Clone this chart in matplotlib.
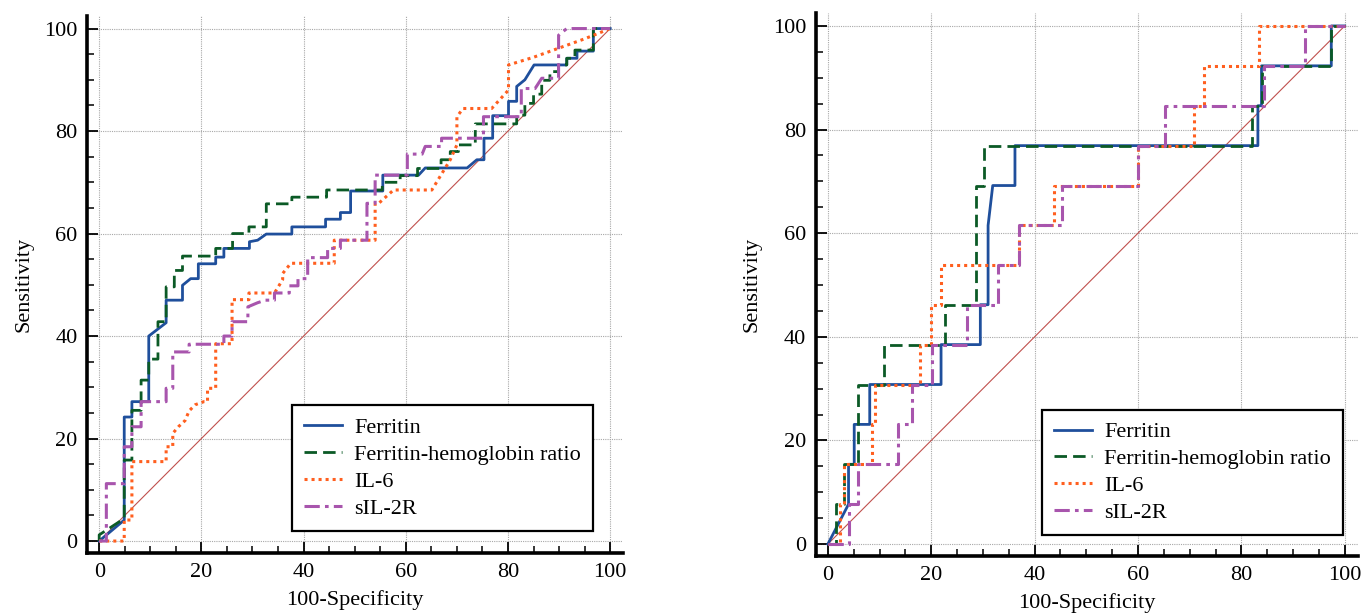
import matplotlib
matplotlib.use("Agg")
import matplotlib.pyplot as plt
from matplotlib.ticker import MultipleLocator

# ---------------- data: left panel ----------------
ferritin_x_L = [0, 4.9, 4.9, 6.4, 6.4, 9.7, 9.7, 13.1, 13.1, 16.3, 16.3, 17.9, 19.4, 19.4, 22.8, 22.8,
                24.4, 24.4, 29.4, 29.4, 31.0, 32.7, 37.7, 37.7, 44.3, 44.3, 47.2, 47.2, 49.2, 49.2,
                55.5, 55.5, 62.5, 63.8, 72.0, 73.9, 75.3, 75.3, 77.0, 77.0, 80.1, 80.1, 81.7, 81.7,
                83.3, 85.1, 91.5, 91.5, 93.5, 93.5, 96.7, 96.7, 100]
ferritin_y_L = [0, 4.1, 24.2, 24.2, 27.2, 27.2, 40.0, 42.6, 47.0, 47.0, 49.9, 51.2, 51.2, 54.1, 54.1, 55.4,
                55.4, 57.1, 57.1, 58.4, 58.7, 59.9, 59.9, 61.3, 61.3, 62.8, 62.8, 64.1, 64.1, 68.3,
                68.3, 71.4, 71.4, 72.8, 72.8, 74.4, 74.4, 78.6, 78.6, 83.0, 83.0, 85.8, 85.8, 88.7,
                90.0, 92.9, 92.9, 94.2, 94.2, 95.6, 95.6, 100, 100]

ratio_x_L = [0, 0, 4.9, 4.9, 6.4, 6.4, 8.2, 8.2, 9.7, 9.7, 11.5, 11.5, 13.1, 13.1, 14.7, 14.7, 16.3, 16.3,
             22.8, 22.8, 26.1, 26.1, 29.3, 29.3, 32.7, 32.7, 37.7, 37.7, 44.5, 44.5, 55.4, 55.4,
             58.9, 58.9, 62.3, 62.3, 66.9, 66.9, 68.7, 68.7, 70.3, 70.3, 73.6, 73.6, 81.7, 81.7,
             83.3, 83.3, 85.0, 85.0, 86.6, 86.6, 88.2, 88.2, 89.9, 89.9, 91.5, 91.5, 93.1, 93.1,
             96.7, 96.7, 100]
ratio_y_L = [0, 1.2, 4.4, 15.8, 15.8, 25.5, 25.5, 31.4, 31.4, 35.5, 35.5, 42.8, 42.8, 49.6, 49.6, 52.8,
             52.8, 55.6, 55.6, 57.1, 57.1, 60.0, 60.0, 61.3, 61.3, 65.8, 65.8, 67.1, 67.1, 68.5,
             68.5, 70.0, 70.0, 71.3, 71.3, 72.7, 72.7, 74.4, 74.4, 76.0, 76.0, 77.3, 77.3, 81.4,
             81.4, 83.1, 83.1, 85.4, 85.4, 87.2, 87.2, 89.9, 89.9, 91.6, 91.6, 92.9, 92.9, 94.2,
             94.2, 95.8, 95.8, 100, 100]

il6_x_L = [0, 4.9, 4.9, 6.4, 6.4, 13.1, 13.1, 14.4, 14.4, 15.5, 16.8, 17.6, 18.8, 20.5, 21.2, 21.2,
           22.8, 22.8, 26.0, 26.0, 29.3, 29.3, 34.3, 35.9, 35.9, 37.5, 46.0, 46.0, 54.0, 54.0,
           54.7, 57.6, 65.1, 68.7, 70.0, 70.0, 71.2, 76.8, 80.1, 80.1, 85.0, 90.0, 95.0, 100]
il6_y_L = [0, 0, 4.1, 4.1, 15.5, 15.5, 18.4, 18.4, 21.0, 22.3, 23.5, 25.4, 26.6, 27.2, 27.2, 29.8,
           29.8, 38.5, 38.5, 47.1, 47.1, 48.4, 48.4, 51.0, 52.2, 54.2, 54.2, 58.7, 58.7, 65.9,
           65.9, 68.5, 68.5, 74.4, 77.3, 82.8, 84.4, 84.4, 88.0, 92.9, 94.4, 96.2, 98.0, 100]

sil2r_x_L = [0, 1.4, 1.4, 4.9, 4.9, 6.4, 6.4, 8.2, 8.2, 13.1, 13.1, 14.4, 14.4, 17.6, 17.6, 24.4, 24.4,
             26.0, 26.0, 29.1, 29.1, 31.0, 32.5, 34.3, 34.3, 37.2, 37.2, 38.9, 38.9, 40.8, 40.8,
             44.7, 44.7, 47.2, 47.2, 52.4, 52.4, 54.0, 54.0, 60.3, 60.3, 63.2, 63.8, 67.0, 67.0,
             75.2, 75.2, 82.6, 82.6, 85.3, 86.6, 89.9, 89.9, 91.5, 100]
sil2r_y_L = [0, 0, 11.2, 11.2, 18.4, 18.4, 22.3, 22.3, 27.2, 27.2, 29.8, 29.8, 36.9, 36.9, 38.4, 38.4, 40.0,
             40.0, 42.8, 42.8, 45.7, 46.5, 47.0, 47.0, 48.4, 48.4, 49.8, 49.8, 51.2, 51.2, 55.3,
             55.3, 57.1, 57.1, 58.7, 58.7, 65.9, 65.9, 71.4, 71.4, 75.5, 75.5, 77.0, 77.0, 78.6,
             78.6, 82.8, 82.8, 88.3, 88.3, 90.3, 90.3, 98.7, 100, 100]

# ---------------- data: right panel ----------------
ferritin_x_R = [0, 4.0, 4.0, 5.1, 5.1, 8.1, 8.1, 21.9, 21.9, 29.5, 29.5, 31.0, 31.0, 31.9, 36.2, 36.2,
                83.2, 83.2, 83.9, 83.9, 97.4, 97.4, 100]
ferritin_y_R = [0, 7.7, 15.4, 15.4, 23.1, 23.1, 30.8, 30.8, 38.5, 38.5, 46.2, 46.2, 61.5, 69.2, 69.2, 76.9,
                76.9, 84.6, 84.6, 92.3, 92.3, 100, 100]

ratio_x_R = [0, 1.5, 1.5, 3.2, 3.2, 5.8, 5.8, 10.9, 10.9, 22.7, 22.7, 28.7, 28.7, 30.3, 30.3,
             82.1, 82.1, 83.9, 83.9, 97.4, 97.4, 100]
ratio_y_R = [0, 0, 7.7, 7.7, 15.4, 15.4, 30.8, 30.8, 38.5, 38.5, 46.2, 46.2, 69.2, 69.2, 76.9,
             76.9, 84.6, 84.6, 92.3, 92.3, 100, 100]

il6_x_R = [0, 2.4, 2.4, 3.2, 3.2, 8.5, 8.5, 9.1, 9.1, 17.8, 17.8, 20.0, 20.0, 21.9, 21.9, 37.0, 37.0,
           43.7, 43.7, 60.0, 60.0, 70.9, 70.9, 72.7, 72.7, 83.5, 83.5, 100]
il6_y_R = [0, 0, 7.7, 7.7, 15.4, 15.4, 23.1, 23.1, 30.8, 30.8, 38.5, 38.5, 46.2, 46.2, 53.8, 53.8, 61.5,
           61.5, 69.2, 69.2, 76.9, 76.9, 84.6, 84.6, 92.3, 92.3, 100, 100]

sil2r_x_R = [0, 4.0, 4.0, 5.8, 5.8, 13.5, 13.5, 16.2, 16.2, 20.1, 20.1, 26.9, 26.9, 33.0, 33.0, 37.0, 37.0,
             45.3, 45.3, 60.0, 60.0, 65.3, 65.3, 84.3, 84.3, 92.3, 92.3, 100]
sil2r_y_R = [0, 0, 7.7, 7.7, 15.4, 15.4, 23.1, 23.1, 30.8, 30.8, 38.5, 38.5, 46.2, 46.2, 53.8, 53.8, 61.5,
             61.5, 69.2, 69.2, 76.9, 76.9, 84.6, 84.6, 92.3, 92.3, 100, 100]

series_labels = ["Ferritin", "Ferritin-hemoglobin ratio", "IL-6", "sIL-2R"]
tick_values = [0, 20, 40, 60, 80, 100]
x_title = "100-Specificity"
y_title = "Sensitivity"

# ---------------- styling ----------------
plt.rcParams['font.family'] = ['Liberation Serif', 'DejaVu Serif']
plt.rcParams['font.size'] = 16

colors = ["#1f4f9c", "#0b5a26", "#ff5f1f", "#a855ad"]
styles = [dict(linestyle='-', lw=2.0),
          dict(linestyle=(0, (4.5, 2.2)), lw=2.0),
          dict(linestyle=(0, (1.0, 1.3)), lw=2.2),
          dict(linestyle=(0, (5.0, 1.7, 1.2, 1.7)), lw=2.2)]

fig = plt.figure(figsize=(13.62, 6.15), dpi=100)
ax_L = fig.add_axes([0.0642, 0.1011, 0.3932, 0.8733])
ax_R = fig.add_axes([0.5991, 0.0959, 0.3977, 0.8830])

panels = [
    (ax_L, [(ferritin_x_L, ferritin_y_L), (ratio_x_L, ratio_y_L), (il6_x_L, il6_y_L), (sil2r_x_L, sil2r_y_L)],
     (0.382, 0.041)),
    (ax_R, [(ferritin_x_R, ferritin_y_R), (ratio_x_R, ratio_y_R), (il6_x_R, il6_y_R), (sil2r_x_R, sil2r_y_R)],
     (0.4175, 0.039)),
]

for ax, data, legpos in panels:
    ax.set_xlim(-2.3, 102.5)
    ax.set_ylim(-2.3, 102.5)
    ax.grid(True, color='#a8a8a8', linestyle=(0, (1, 1)), lw=0.8)
    ax.set_axisbelow(True)
    ax.plot([0, 100], [0, 100], color='#c0504d', lw=0.8, zorder=2)
    for (xs, ys), c, st, lab in zip(data, colors, styles, series_labels):
        ax.plot(xs, ys, color=c, label=lab, zorder=3, **st)
    for s in ['top', 'right']:
        ax.spines[s].set_visible(False)
    for s in ['left', 'bottom']:
        ax.spines[s].set_linewidth(2.6)
    ax.set_xticks(tick_values)
    ax.set_yticks(tick_values)
    ax.xaxis.set_minor_locator(MultipleLocator(5))
    ax.yaxis.set_minor_locator(MultipleLocator(5))
    ax.tick_params(which='major', direction='in', length=8, width=1.3, pad=7, labelsize=16)
    ax.tick_params(which='minor', direction='in', length=5, width=1.1)
    ax.set_xlabel(x_title, fontsize=16, labelpad=6)
    ax.set_ylabel(y_title, fontsize=16, labelpad=8)
    leg = ax.legend(loc='lower left', bbox_to_anchor=legpos, fontsize=16, frameon=True,
                    fancybox=False, edgecolor='black', framealpha=1, handlelength=1.7,
                    handletextpad=0.55, borderpad=0.55, labelspacing=0.28, borderaxespad=0)
    leg.get_frame().set_linewidth(1.6)

fig.savefig("out.png", dpi=100)
